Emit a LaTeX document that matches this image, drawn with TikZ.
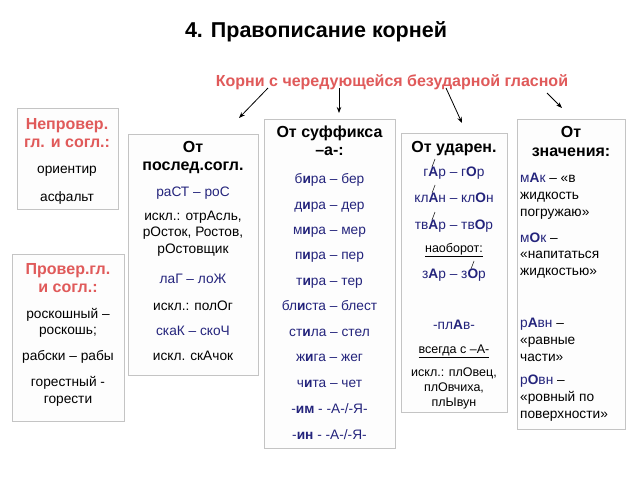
\documentclass[tikz,border=0pt]{standalone}
\usepackage{fontspec}
\setmainfont{Liberation Sans}
\usetikzlibrary{arrows.meta}
\definecolor{redt}{HTML}{E05A5A}
\definecolor{bluet}{HTML}{24247C}
\definecolor{boxline}{HTML}{C4C4C4}
\definecolor{boxfill}{HTML}{FDFDFD}
\newcommand\B[1]{\textbf{#1}}
\newcommand\ud[1]{\tikz[overlay,x=1pt,y=1pt]\draw[line width=0.6pt,black!85] (3.5,9.5) -- (6.5,17.5);#1}
\begin{document}
\begin{tikzpicture}[x=1pt,y=-1pt,
  box/.style={draw=boxline,fill=boxfill,line width=0.7pt,inner sep=0,outer sep=0},
  txt/.style={inner sep=0,font=\fontsize{13.7}{16}\selectfont,text height=10pt,text depth=3pt},
  sml/.style={inner sep=0,font=\fontsize{12.5}{15}\selectfont,text height=9pt,text depth=3pt},
  hd/.style={inner sep=0,font=\fontsize{16}{19}\selectfont\bfseries,text height=11.5pt,text depth=3.5pt},
  rhd/.style={hd,text=redt},
  blu/.style={txt,text=bluet},
  lft/.style={anchor=west},
  arr/.style={-{Stealth[length=6pt,width=4.5pt]},line width=0.8pt}]
\useasboundingbox (0,0) rectangle (640,480);
\fill[white] (0,0) rectangle (640,480);

\node[inner sep=0,font=\fontsize{21.5}{25}\selectfont\bfseries] (title) at (316,32) {4. Правописание корней};
\node[inner sep=0,font=\fontsize{16}{19}\selectfont\bfseries,text=redt] (sub) at (392,82) {Корни с чередующейся безударной гласной};

% boxes
\node[box,minimum width=101pt,minimum height=101pt] (b1) at (67.5,158.5) {};
\node[box,minimum width=112pt,minimum height=167pt] (b2) at (68,337.5) {};
\node[box,minimum width=130pt,minimum height=241pt] (b3) at (193,254.5) {};
\node[box,minimum width=131pt,minimum height=329pt] (b4) at (329.5,283.5) {};
\node[box,minimum width=106pt,minimum height=279pt] (b5) at (454,272.5) {};
\node[box,minimum width=108pt,minimum height=310pt] (b6) at (571,274) {};

% arrows
\coordinate (a1s) at (268,88); \coordinate (a1e) at (239,118);
\coordinate (a2s) at (339,88); \coordinate (a2e) at (339,113);
\coordinate (a3s) at (446,88); \coordinate (a3e) at (462,123);
\coordinate (a4s) at (547,93); \coordinate (a4e) at (562,108);
\draw[arr] (a1s) -- (a1e);
\draw[arr] (a2s) -- (a2e);
\draw[arr] (a3s) -- (a3e);
\draw[arr] (a4s) -- (a4e);

% box 1
\node[rhd] (b1h1) at (67,125) {Непровер.};
\node[rhd] (b1h2) at (67,143) {гл. и согл.:};
\node[txt] (b1t1) at (67,170) {ориентир};
\node[txt] (b1t2) at (67,198) {асфальт};

% box 2
\node[rhd] (b2h1) at (68,270) {Провер.гл.};
\node[rhd] (b2h2) at (68,288) {и согл.:};
\node[txt] (b2t1) at (68,315) {роскошный –};
\node[txt] (b2t2) at (68,331) {роскошь;};
\node[txt] (b2t3) at (68,357) {рабски – рабы};
\node[txt] (b2t4) at (68,383) {горестный -};
\node[txt] (b2t5) at (68,400) {горести};

% box 3
\node[hd] (b3h1) at (193,148) {От};
\node[hd] (b3h2) at (193,166) {послед.согл.};
\node[blu] (b3t1) at (193,193) {раСТ – роС};
\node[txt] (b3t2) at (193,217) {искл.: отрАсль,};
\node[txt] (b3t3) at (193,233) {рОсток, Ростов,};
\node[txt] (b3t4) at (193,250) {рОстовщик};
\node[blu] (b3t5) at (193,280) {лаГ – лоЖ};
\node[txt] (b3t6) at (193,307) {искл.: полОг};
\node[blu] (b3t7) at (193,332) {скаК – скоЧ};
\node[txt] (b3t8) at (193,357) {искл. скАчок};

% box 4
\node[hd] (b4h1) at (329.5,133) {От суффикса};
\node[hd] (b4h2) at (329.5,151) {–а-:};
\node[blu] (b4t1) at (329.5,180) {б\B{и}ра – бер};
\node[blu] (b4t2) at (329.5,206) {д\B{и}ра – дер};
\node[blu] (b4t3) at (329.5,231) {м\B{и}ра – мер};
\node[blu] (b4t4) at (329.5,256) {п\B{и}ра – пер};
\node[blu] (b4t5) at (329.5,282) {т\B{и}ра – тер};
\node[blu] (b4t6) at (329.5,307) {бл\B{и}ста – блест};
\node[blu] (b4t7) at (329.5,333) {ст\B{и}ла – стел};
\node[blu] (b4t8) at (329.5,358) {ж\B{и}га – жег};
\node[blu] (b4t9) at (329.5,384) {ч\B{и}та – чет};
\node[blu] (b4t10) at (329.5,410) {-\B{им} - -А-/-Я-};
\node[blu] (b4t11) at (329.5,436) {-\B{ин} - -А-/-Я-};

% box 5
\node[hd] (b5h1) at (454,148) {От ударен.};
\node[blu] (b5t1) at (454,173) {г\ud{\B{А}}р – г\B{О}р};
\node[blu] (b5t2) at (454,199) {кл\ud{\B{А}}н – кл\B{О}н};
\node[blu] (b5t3) at (454,226) {тв\ud{\B{А}}р – тв\B{О}р};
\node[sml] (b5t4) at (454,249) {\underline{наоборот:}};
\node[blu] (b5t5) at (454,275) {з\B{А}р – з\ud{\B{О}}р};
\node[blu] (b5t6) at (454,326) {-пл\B{А}в-};
\node[sml] (b5t7) at (454,350) {\underline{всегда с –А-}};
\node[sml] (b5t8) at (454,373) {искл.: плОвец,};
\node[sml] (b5t9) at (454,388) {плОвчиха,};
\node[sml] (b5t10) at (454,403) {плЫвун};

% box 6
\node[hd] (b6h1) at (571,133) {От};
\node[hd] (b6h2) at (571,152) {значения:};
\node[txt,lft] (b6t1) at (520,179) {\textcolor{bluet}{м\B{А}к} – «в};
\node[txt,lft] (b6t2) at (520,196) {жидкость};
\node[txt,lft] (b6t3) at (520,213) {погружаю»};
\node[txt,lft] (b6t4) at (520,239) {\textcolor{bluet}{м\B{О}к} –};
\node[txt,lft] (b6t5) at (520,255) {«напитаться};
\node[txt,lft] (b6t6) at (520,272) {жидкостью»};
\node[txt,lft] (b6t7) at (520,324) {\textcolor{bluet}{р\B{А}вн} –};
\node[txt,lft] (b6t8) at (520,341) {«равные};
\node[txt,lft] (b6t9) at (520,358) {части»};
\node[txt,lft] (b6t10) at (520,381) {\textcolor{bluet}{р\B{О}вн} –};
\node[txt,lft] (b6t11) at (520,398) {«ровный по};
\node[txt,lft] (b6t12) at (520,415) {поверхности»};
\end{tikzpicture}
\end{document}
